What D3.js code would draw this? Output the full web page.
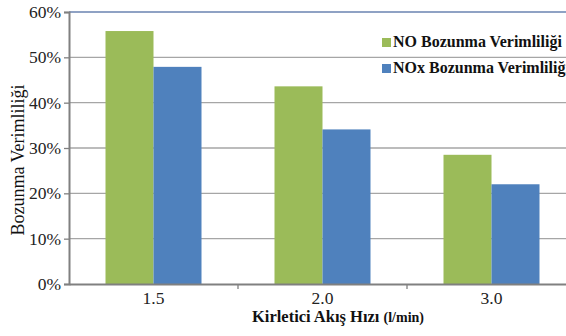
<!DOCTYPE html>
<html>
<head>
<meta charset="utf-8">
<script src="https://cdn.jsdelivr.net/npm/d3@7"></script>
<style>
  html, body { margin: 0; padding: 0; background: #fff; overflow: hidden; }
  svg { display: block; font-family: "Liberation Serif", "Times New Roman", serif; }
</style>
</head>
<body>
<svg id="chart" width="566" height="336"></svg>
<script>
// Flow rates (l/min) and removal efficiencies (%)
const categories = ["1.5", "2.0", "3.0"];
const noEfficiency = [55.8, 43.6, 28.5];
const noxEfficiency = [47.9, 34.1, 22.0];
const seriesNames = ["NO Bozunma Verimliliği", "NOx Bozunma Verimliliği"];
const seriesColors = ["#9BBB59", "#4F81BD"];
const yTicks = [0, 10, 20, 30, 40, 50, 60];

const svg = d3.select("#chart");
const margin = { left: 69, top: 12, bottom: 52 };
const plotW = 507;
const plotH = 336 - margin.top - margin.bottom;

const x = d3.scaleBand().domain(categories).range([margin.left, margin.left + plotW]);
const y = d3.scaleLinear().domain([0, 60]).range([margin.top + plotH, margin.top]);
const barW = 48;

// gridlines
svg.append("g").selectAll("line").data(yTicks.filter(d => d > 0)).join("line")
  .attr("x1", margin.left).attr("x2", margin.left + plotW)
  .attr("y1", d => y(d)).attr("y2", d => y(d))
  .attr("stroke", d => d === 60 ? "#8FA2C4" : "#A6A6A6")
  .attr("stroke-width", d => d === 60 ? 2 : 1.3);

// bars
const series = [noEfficiency, noxEfficiency];
series.forEach((vals, si) => {
  svg.append("g").selectAll("rect").data(vals).join("rect")
    .attr("x", (d, i) => x(categories[i]) + x.bandwidth() / 2 - barW + si * barW)
    .attr("width", barW)
    .attr("y", d => y(d))
    .attr("height", d => y(0) - y(d))
    .attr("fill", seriesColors[si]);
});

// y axis
const yAxis = svg.append("g").attr("transform", `translate(${margin.left},0)`)
  .call(d3.axisLeft(y).tickValues(yTicks).tickFormat(d => d + "%").tickSize(5).tickPadding(3));
yAxis.select(".domain").attr("stroke", "#808080").attr("stroke-width", 2);
yAxis.selectAll(".tick line").attr("stroke", "#808080").attr("stroke-width", 1.3);
yAxis.selectAll(".tick text").attr("font-size", 17.5).attr("fill", "#222")
  .attr("font-family", "Liberation Serif");

// x axis
const xAxis = svg.append("g").attr("transform", `translate(0,${y(0)})`)
  .call(d3.axisBottom(x).tickSize(0).tickPadding(8));
xAxis.select(".domain").attr("stroke", "#808080").attr("stroke-width", 2);
xAxis.selectAll(".tick text").attr("font-size", 17.5).attr("fill", "#222")
  .attr("font-family", "Liberation Serif");
// boundary tick marks between categories
svg.append("g").selectAll("line").data(categories.slice(1)).join("line")
  .attr("x1", d => x(d)).attr("x2", d => x(d))
  .attr("y1", y(0)).attr("y2", y(0) + 5)
  .attr("stroke", "#808080").attr("stroke-width", 1.3);

// axis titles
svg.append("text")
  .attr("transform", "translate(24,160) rotate(-90)")
  .attr("text-anchor", "middle")
  .attr("font-size", 18).attr("fill", "#111")
  .text("Bozunma Verimliliği");

const xt = svg.append("text")
  .attr("x", 252).attr("y", 322)
  .attr("text-anchor", "start")
  .attr("font-weight", "bold").attr("fill", "#111");
xt.append("tspan").attr("font-size", 16.5).text("Kirletici Akış Hızı ");
xt.append("tspan").attr("font-size", 14).text("(l/min)");

// legend
const legend = svg.append("g").attr("transform", "translate(382,47)");
seriesNames.forEach((name, i) => {
  const g = legend.append("g").attr("transform", `translate(0,${i * 26})`);
  g.append("rect").attr("x", 0).attr("y", -9).attr("width", 9).attr("height", 9)
    .attr("fill", seriesColors[i]);
  g.append("text").attr("x", 11).attr("y", 0)
    .attr("font-size", 16).attr("font-weight", "bold").attr("fill", "#111")
    .text(name);
});
</script>
</body>
</html>
